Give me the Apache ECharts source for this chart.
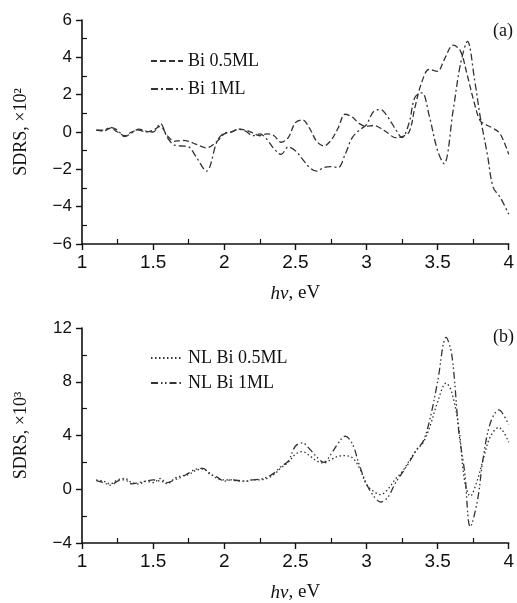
<!DOCTYPE html>
<html>
<head>
<meta charset="utf-8">
<script src="https://cdn.jsdelivr.net/npm/echarts@6/dist/echarts.min.js"></script>
<style>html,body{margin:0;padding:0;background:#fff;}#c{width:517px;height:603px;}</style>
</head>
<body>
<div id="c"></div>
<script>
// ---- Panel (a) ----
const topX = [1.10,1.15,1.20,1.25,1.30,1.35,1.40,1.45,1.50,1.55,1.60,1.65,1.70,1.75,1.80,1.875,
  1.95,2.00,2.05,2.10,2.15,2.20,2.25,2.30,2.35,2.40,2.45,2.50,2.55,2.60,2.65,2.70,2.75,2.80,2.85,2.90,2.95,3.00,3.05,3.10,3.15,3.20,3.25,3.30,
  3.34,3.39,3.44,3.50,3.545,3.61,3.66,3.71,3.76,3.80,3.85,3.89,3.94,4.00];
const bi05 = [0.1,0.05,0.2,0.0,-0.2,0.0,0.1,0.0,0.1,0.3,-0.2,-0.5,-0.45,-0.5,-0.65,-0.85,
  -0.5,-0.1,0.0,0.15,0.1,-0.05,-0.2,-0.1,-0.2,-0.55,-0.3,0.5,0.65,0.2,-0.5,-0.75,-0.45,0.2,0.95,0.8,0.45,0.3,0.35,0.2,-0.05,-0.3,-0.25,0.0,
  1.3,2.7,3.35,3.25,3.85,4.65,4.35,3.0,1.5,0.6,0.35,0.2,-0.1,-1.2];
const bi1 = [0.1,0.1,0.25,0.1,-0.25,-0.05,0.15,0.05,0.0,0.45,-0.3,-0.7,-0.75,-0.8,-1.3,-2.1,
  -0.5,-0.05,0.0,0.15,0.05,-0.2,-0.1,-0.4,-0.9,-1.2,-0.8,-1.0,-1.45,-1.9,-2.1,-1.9,-1.85,-1.9,-1.2,-0.3,0.1,0.4,1.1,1.2,0.8,0.2,-0.3,0.5,
  1.85,2.1,0.9,-1.0,-1.7,1.2,3.6,4.85,2.8,0.8,-1.2,-2.95,-3.5,-4.4];

// ---- Panel (b) ----
const botX = [1.10,1.15,1.20,1.25,1.30,1.35,1.40,1.45,1.50,1.55,1.60,1.65,1.70,1.75,1.80,1.85,1.90,1.95,
  2.00,2.05,2.10,2.15,2.20,2.25,2.30,2.35,2.40,2.45,2.50,2.55,2.60,2.65,2.70,2.75,2.80,2.85,2.90,2.95,
  3.00,3.05,3.10,3.15,3.20,3.25,3.30,3.35,3.40,3.45,3.50,3.56,3.60,3.65,3.69,3.73,3.78,3.82,3.87,3.93,4.00];
const nl05 = [0.7,0.6,0.4,0.7,0.8,0.5,0.4,0.6,0.5,0.8,0.4,0.8,1.0,1.1,1.4,1.5,1.2,0.8,
  0.7,0.7,0.6,0.6,0.7,0.7,0.8,1.1,1.6,2.0,2.6,2.8,2.5,2.1,1.95,2.2,2.45,2.5,2.35,1.6,
  0.35,-0.15,-0.4,0.0,0.7,1.3,2.1,2.9,3.5,4.8,6.5,7.9,7.2,4.5,0.6,-0.5,0.7,2.2,3.9,4.6,3.5];
const nl1 = [0.65,0.5,0.3,0.6,0.7,0.4,0.5,0.6,0.7,0.6,0.5,0.7,0.9,1.2,1.5,1.55,1.1,0.9,
  0.6,0.7,0.65,0.6,0.7,0.75,0.9,1.2,1.7,2.1,3.2,3.45,3.0,2.4,2.0,2.6,3.4,3.95,3.4,1.8,
  0.4,-0.5,-0.95,-0.6,0.4,1.2,2.0,2.9,3.6,5.4,8.0,11.3,10.0,4.2,1.3,-2.8,-0.85,2.3,4.9,5.9,4.8];

const xTicks = {min: 1, max: 4, interval: 0.5};
const topY = {min: -6, max: 6, interval: 2};
const botY = {min: -4, max: 12, interval: 4};

const pair = (xs, ys) => xs.map((x, i) => [x, ys[i]]);
const minus = v => String(v).replace('-', '\u2212');
const sans = 'Liberation Sans';
const serif = 'Liberation Serif';
const ink = '#111';

function xAxis(gridIndex) {
  return {
    type: 'value', gridIndex, min: xTicks.min, max: xTicks.max, interval: xTicks.interval,
    axisLine: {show: true, onZero: false, lineStyle: {color: ink, width: 1.6}},
    axisTick: {show: true, length: 6, lineStyle: {color: ink, width: 1.4}},
    minorTick: {show: true, splitNumber: 2, length: -5, lineStyle: {color: ink, width: 1.2}},
    splitLine: {show: false},
    axisLabel: {color: ink, fontFamily: sans, fontSize: 19, margin: 9},
    name: '{i|h\u03bd}, eV', nameLocation: 'middle', nameGap: 40,
    nameTextStyle: {color: ink, fontFamily: serif, fontSize: 19,
      rich: {i: {fontStyle: 'italic', fontFamily: serif, fontSize: 19, color: ink}}}
  };
}
function yAxis(gridIndex, ys, name, gap) {
  return {
    type: 'value', gridIndex, min: ys.min, max: ys.max, interval: ys.interval,
    axisLine: {show: true, onZero: false, lineStyle: {color: ink, width: 1.6}},
    axisTick: {show: true, length: 6, lineStyle: {color: ink, width: 1.4}},
    minorTick: {show: true, splitNumber: 2, length: -5, lineStyle: {color: ink, width: 1.2}},
    splitLine: {show: false},
    axisLabel: {color: ink, fontFamily: sans, fontSize: 17, margin: 10, formatter: minus},
    name, nameLocation: 'middle', nameGap: gap, nameRotate: 90,
    nameTextStyle: {color: ink, fontFamily: serif, fontSize: 18}
  };
}
function line(name, xi, data, dash) {
  return {
    name, type: 'line', xAxisIndex: xi, yAxisIndex: xi, data, smooth: 0.35,
    symbol: 'none', showSymbol: false, silent: true,
    lineStyle: {color: '#333', width: 1.3, type: dash},
    itemStyle: {color: '#333'}
  };
}
const legendText = {color: ink, fontFamily: serif, fontSize: 18, lineHeight: 18};
const legendBase = {orient: 'vertical', left: 145, itemWidth: 32, itemHeight: 14,
  textStyle: legendText, selectedMode: false, itemStyle: {opacity: 0}};

const chart = echarts.init(document.getElementById('c'), null, {renderer: 'canvas'});
chart.setOption({
  backgroundColor: '#fff',
  animation: false,
  grid: [
    {left: 82, right: 5, top: 20, height: 224},
    {left: 82, right: 5, top: 328, height: 222}
  ],
  xAxis: [xAxis(0), xAxis(1)],
  yAxis: [yAxis(0, topY, 'SDRS, \u00d710\u00b2', 52), yAxis(1, botY, 'SDRS, \u00d710\u00b3', 52)],
  legend: [
    Object.assign({data: ['Bi 0.5ML', 'Bi 1ML'], top: 47, itemGap: 10}, legendBase),
    Object.assign({data: ['NL Bi 0.5ML', 'NL Bi 1ML'], top: 344, itemGap: 7}, legendBase)
  ],
  graphic: [
    {type: 'text', left: 493, top: 22, style: {text: '(a)', font: '18px "Liberation Serif"', fill: ink}},
    {type: 'text', left: 493, top: 328, style: {text: '(b)', font: '18px "Liberation Serif"', fill: ink}}
  ],
  series: [
    line('Bi 0.5ML', 0, pair(topX, bi05), [6, 3]),
    line('Bi 1ML', 0, pair(topX, bi1), [7, 3, 2, 3]),
    line('NL Bi 0.5ML', 1, pair(botX, nl05), [1.5, 2.5]),
    line('NL Bi 1ML', 1, pair(botX, nl1), [7, 3, 1.5, 2.5, 1.5, 3])
  ]
});
</script>
</body>
</html>
